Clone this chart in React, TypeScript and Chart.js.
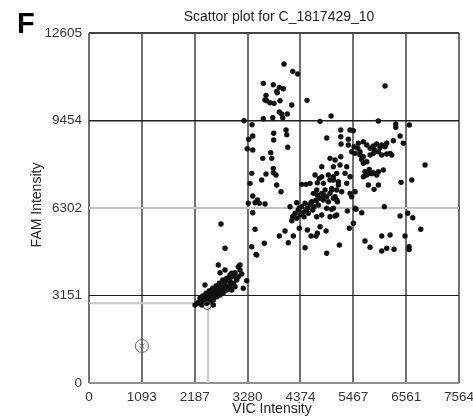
import React, { useEffect, useRef } from "react";
import { Chart, registerables } from "chart.js";
Chart.register(...registerables);

const chartTitle = "Scattor plot for C_1817429_10";
const panelLetter = "F";
const xAxisTitle = "VIC Intensity";
const yAxisTitle = "FAM Intensity";

const xTickValues = [0, 1093, 2187, 3280, 4374, 5467, 6561, 7654];
const xTickLabels = ["0", "1093", "2187", "3280", "4374", "5467", "6561", "7564"];
const yTickValues = [0, 3151, 6302, 9454, 12605];
const yTickLabels = ["0", "3151", "6302", "9454", "12605"];

// FAM-high cluster
const groupAVic = [4035,4214,4318,3606,3813,3937,4020,3883,3896,3662,3641,3677,3745,3828,3952,4194,4510,3937,3987,4103,3606,3801,4008,5007,3207,4779,3372,3821,4076,4090,3304,3387,3821,4918,3275,3387,4111,3759,3594,3780,6124,5986,6346,6346,6627,5208,5400,5468,5208,5365,6435,5214,6296,6503];
const groupAFam = [11487,11224,11127,10792,10742,10648,10598,10504,10454,10360,10191,10166,10094,10072,10166,10011,10180,9759,9687,9687,9518,9554,9554,9615,9446,9424,9302,8992,9111,8941,8776,8894,8750,8822,8437,8390,8488,8293,8091,8091,10695,9435,9327,9208,9291,9111,9111,9086,8869,8776,8894,8606,8725,8632];

// upper-right cluster
const groupBVic = [5483,5572,5675,5746,5814,5882,5953,6056,6124,6159,6228,5504,5607,5675,5746,5814,5882,5986,6056,6159,5710,5746,5814,5882,5953,5986,6089,5779,5897,5986,6455,6677,6952,6110,6435,6697,6594,6863,6538,6056,6228,5710,5814,6159,6310,6056,6621,6621,5642,5524,5468,5386,5179,5344,5675,5799,5675,5607,5435,6263,5090,5193,5332,5125,5297,5400,5055,5158,5332,5021,5125,5228,5090,5125,5400,5504,5435,5055,5090,5504,5365,4986,5560,5900,6020,5640,5850];
const groupBFam = [8509,8632,8689,8570,8452,8534,8606,8570,8509,8632,8271,8271,8329,8149,7969,8210,8271,8329,8210,8246,7609,7490,7551,7573,7490,7609,7670,7130,6975,7130,7227,7310,7850,6349,6014,5953,6111,5535,5293,5293,5329,5113,4887,4851,4815,4753,4908,4807,6133,6255,5751,5571,4969,6194,7429,7688,7911,8210,8329,8210,8030,7850,7789,7551,7551,7429,7310,7249,7191,6950,6950,6889,6709,6590,6831,6889,6709,6291,6014,6291,8570,8091,8450,8400,8480,8050,7540];

// middle diagonal cluster
const groupCVic = [3813,3813,3869,3366,3662,3573,3331,3883,3972,3387,3482,3435,3523,3641,3296,3387,3435,3366,3455,3627,3937,4055,4123,4227,4351,4469,4517,4593,4904,4918,4194,4214,4262,4297,4330,4366,4401,4421,4448,4469,4517,4537,4572,4608,4628,4655,4697,4724,4744,4779,4815,4848,4883,4918,4951,4986,5021,5055,5137,5158,4986,4815,4951,5055,4848,4724,4641,4572,4490,4401,4697,4724,4711,4779,4159,4297,4986,5125,5021,4918,4815,4711,4676,4765,4815,5055,5208,4350,4590,4860,4480,4700];
const groupCFam = [7731,7573,7490,7551,7526,7310,7191,7130,6889,6734,6590,6493,6471,6446,6471,6133,5535,4908,4634,5031,5293,5474,5052,5293,5571,4872,5510,5293,5474,4671,5845,5989,6111,5931,6230,6050,6349,6133,5989,6471,6291,6111,6410,6529,6230,6349,6590,6770,6410,6651,6831,6590,6950,6709,6529,6831,7011,6651,6529,7130,7310,7429,7490,7429,7191,7213,6831,7191,7155,7155,5293,5391,5989,5628,6349,6493,5989,6050,6255,6291,6050,6950,7490,7371,7789,7789,8149,6300,6480,6760,6200,6560];

// low cluster
const groupDVic = [2731,2814,2675,2710,2917,2814,3124,3159,3470,3263,2400,2193,2261,2311,2365,2435,2468,2503,2539,2572,2607,2642,2675,2710,2746,2779,2814,2849,2882,2953,2986,3021,2917,2849,2766,2696,2628,2559,2489,2421,2352,2297,2241,2332,2435,2503,2572,2642,2710,2779,2849,2917,2986,3056,3089,2953,3021,3192,2572,3089,3124,2300,2400,2500,2600,2700,2800,2900,2960,2380,2660,2740];
const groupDFam = [5726,4851,4249,3972,3889,4069,4249,3925,4609,3684,3529,2809,2892,2989,3014,3108,2989,3169,3252,3133,3349,3230,3468,3288,3529,3410,3648,3493,3770,3950,3828,3972,3648,3770,3709,3590,3493,3410,3324,3230,3133,3050,2870,2809,2870,2928,2989,3108,3169,3252,3349,3468,3590,3709,3828,3349,3468,3410,2809,4188,4069,2950,3060,3100,3280,3400,3560,3700,3880,2900,3380,3480];

// no-template control and marked sample
const ntcVic = [1093];
const ntcFam = [1332];
const ringVic = [2445];
const ringFam = [2790];

// call-region threshold
const thresholdVic = [0, 2465, 2465];
const thresholdFam = [2870, 2870, 0];

const toPoints = (xs: number[], ys: number[]) => xs.map((x, i) => ({ x, y: ys[i] }));

const FONT = '"Liberation Sans", Arial, sans-serif';

const textPlugin = {
  id: "texts",
  afterDraw(chart: any) {
    const ctx = chart.ctx;
    ctx.save();
    ctx.fillStyle = "#000";
    ctx.font = `bold 29px ${FONT}`;
    ctx.textAlign = "left";
    ctx.textBaseline = "alphabetic";
    ctx.fillText(panelLetter, 17, 33);
    ctx.fillStyle = "#222";
    ctx.font = `14px ${FONT}`;
    ctx.textAlign = "center";
    ctx.fillText(chartTitle, 279, 21);
    ctx.textBaseline = "middle";
    ctx.fillText(xAxisTitle, 272, 409);
    ctx.translate(37, 205);
    ctx.rotate(-Math.PI / 2);
    ctx.fillText(yAxisTitle, 0, 0);
    ctx.restore();
  },
};

export default function App() {
  const ref = useRef<HTMLCanvasElement>(null);
  useEffect(() => {
    document.body.style.margin = "0";
    if (!ref.current) return;
    const sample = [
      ...toPoints(groupAVic, groupAFam),
      ...toPoints(groupBVic, groupBFam),
      ...toPoints(groupCVic, groupCFam),
      ...toPoints(groupDVic, groupDFam),
    ];
    const yGridColor = ["#909090", "#1e1e1e", "#c4c4c4", "#1e1e1e", "#444444"];
    const yGridWidth = [2, 1, 2, 1.5, 2];
    const chart = new Chart(ref.current, {
      type: "scatter",
      data: {
        datasets: [
          {
            data: sample,
            pointRadius: 2.7,
            pointBackgroundColor: "#111",
            pointBorderWidth: 0,
            order: 1,
          },
          {
            data: toPoints(ringVic, ringFam),
            pointRadius: 4,
            pointBackgroundColor: "rgba(0,0,0,0)",
            pointBorderColor: "#444",
            pointBorderWidth: 1,
            order: 0,
          },
          {
            data: toPoints(ntcVic, ntcFam),
            pointRadius: 6.5,
            pointBackgroundColor: "rgba(0,0,0,0)",
            pointBorderColor: "#666",
            pointBorderWidth: 1,
            order: 2,
          },
          {
            data: toPoints(ntcVic, ntcFam),
            pointStyle: "crossRot",
            pointRadius: 3.5,
            pointBorderColor: "#666",
            pointBorderWidth: 1,
            order: 2,
          },
          {
            data: toPoints(thresholdVic, thresholdFam),
            showLine: true,
            borderColor: "#c8c8c8",
            borderWidth: 2,
            pointRadius: 0,
            order: 3,
          },
        ],
      },
      options: {
        animation: false,
        responsive: false,
        events: [],
        layout: { padding: { left: 0, top: 33, right: 14, bottom: 0 } },
        plugins: { legend: { display: false }, tooltip: { enabled: false }, title: { display: false } },
        scales: {
          x: {
            type: "linear",
            min: xTickValues[0],
            max: xTickValues[xTickValues.length - 1],
            afterBuildTicks: (s: any) => {
              s.ticks = xTickValues.map((v) => ({ value: v }));
            },
            afterFit: (s: any) => {
              s.height = 35;
              s.paddingLeft = 0;
              s.paddingRight = 0;
            },
            border: { display: false },
            grid: { color: "#707070", lineWidth: 2, drawTicks: false },
            ticks: {
              autoSkip: false,
              maxRotation: 0,
              padding: 6,
              color: "#333",
              font: { family: FONT, size: 13.5 },
              callback: (_v: any, i: number) => xTickLabels[i],
            },
          },
          y: {
            type: "linear",
            min: yTickValues[0],
            max: yTickValues[yTickValues.length - 1],
            afterBuildTicks: (s: any) => {
              s.ticks = yTickValues.map((v) => ({ value: v }));
            },
            afterFit: (s: any) => {
              s.width = 89;
              s.paddingTop = 0;
              s.paddingBottom = 0;
            },
            border: { display: false },
            grid: {
              color: (c: any) => yGridColor[c.index] ?? "#888",
              lineWidth: (c: any) => yGridWidth[c.index] ?? 1,
              drawTicks: false,
            },
            ticks: {
              autoSkip: false,
              padding: 7,
              color: "#333",
              font: { family: FONT, size: 13.5 },
              callback: (_v: any, i: number) => yTickLabels[i],
            },
          },
        },
      } as any,
      plugins: [textPlugin],
    });
    return () => chart.destroy();
  }, []);
  return (
    <div style={{ width: 473, height: 418 }}>
      <canvas ref={ref} width={473} height={418} style={{ display: "block" }} />
    </div>
  );
}
